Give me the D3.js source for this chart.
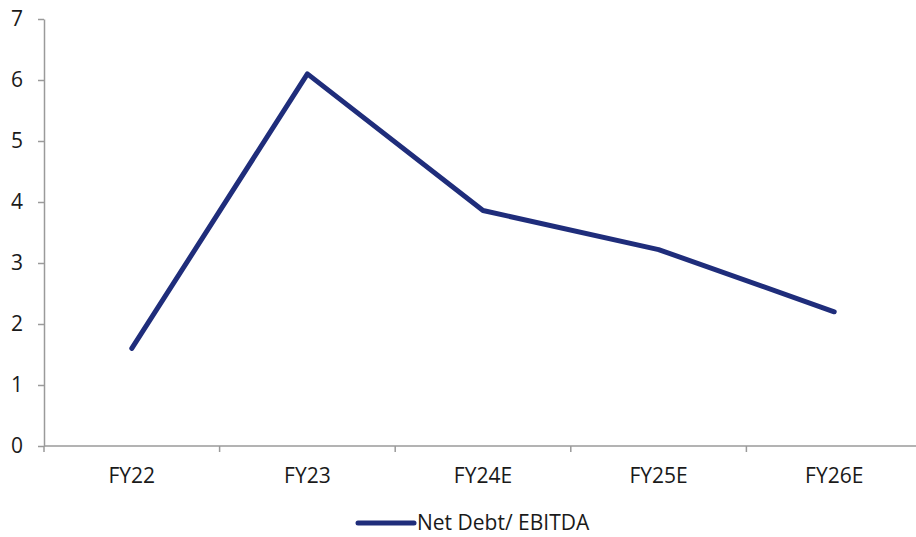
<!DOCTYPE html>
<html>
<head>
<meta charset="utf-8">
<script src="https://cdn.jsdelivr.net/npm/d3@7"></script>
<style>
  html, body { margin: 0; padding: 0; background: #fff; }
  svg text { font-family: "Open Sans", "Noto Sans", sans-serif; fill: #1a1a1a; }
</style>
</head>
<body>
<svg id="chart" width="916" height="537"></svg>
<script>
// Net Debt / EBITDA by fiscal year
const categories = ["FY22", "FY23", "FY24E", "FY25E", "FY26E"];
const netDebtEbitda = [1.6, 6.1, 3.86, 3.22, 2.2];
const yTicks = [0, 1, 2, 3, 4, 5, 6, 7];
const seriesName = "Net Debt/ EBITDA";

const svg = d3.select("#chart");
const axisColor = "#9a9a9a";
const lineColor = "#1f2d7b";
const fontFamily = '"Open Sans", "Noto Sans", sans-serif';

const x = d3.scaleBand().domain(categories).range([44, 922]);
const y = d3.scaleLinear().domain([0, 7]).range([446, 19]);

// y axis
const yAxis = svg.append("g").attr("transform", "translate(44,0)")
  .call(d3.axisLeft(y).tickValues(yTicks).tickFormat(d3.format("d"))
    .tickSize(6).tickSizeOuter(0).tickPadding(15));
yAxis.select(".domain").attr("stroke", axisColor).attr("stroke-width", 1.5);
yAxis.selectAll(".tick line").attr("stroke", axisColor).attr("stroke-width", 1.5);
yAxis.selectAll(".tick text").attr("font-size", 21).attr("fill", "#1a1a1a")
  .style("font-family", fontFamily);

// x axis with ticks at band boundaries
const xAxisG = svg.append("g");
xAxisG.append("line")
  .attr("x1", 44).attr("x2", 916).attr("y1", y(0)).attr("y2", y(0))
  .attr("stroke", axisColor).attr("stroke-width", 1.5);
const boundaries = categories.map(c => x(c)).concat([x(categories[categories.length - 1]) + x.bandwidth()]);
xAxisG.selectAll("line.tk").data(boundaries).join("line")
  .attr("class", "tk")
  .attr("x1", d => d).attr("x2", d => d)
  .attr("y1", y(0)).attr("y2", y(0) + 6)
  .attr("stroke", axisColor).attr("stroke-width", 1.5);
xAxisG.selectAll("text").data(categories).join("text")
  .attr("x", d => x(d) + x.bandwidth() / 2)
  .attr("y", 483)
  .attr("text-anchor", "middle")
  .attr("font-size", 21)
  .text(d => d);

// series line
const line = d3.line()
  .x((d, i) => x(categories[i]) + x.bandwidth() / 2)
  .y(d => y(d));
svg.append("path")
  .datum(netDebtEbitda)
  .attr("d", line)
  .attr("fill", "none")
  .attr("stroke", lineColor)
  .attr("stroke-width", 5)
  .attr("stroke-linecap", "round")
  .attr("stroke-linejoin", "round");

// legend
const lg = svg.append("g");
lg.append("line")
  .attr("x1", 358).attr("x2", 414).attr("y1", 523).attr("y2", 523)
  .attr("stroke", lineColor).attr("stroke-width", 5).attr("stroke-linecap", "round");
lg.append("text")
  .attr("x", 417).attr("y", 530)
  .attr("font-size", 21)
  .text(seriesName);
</script>
</body>
</html>
